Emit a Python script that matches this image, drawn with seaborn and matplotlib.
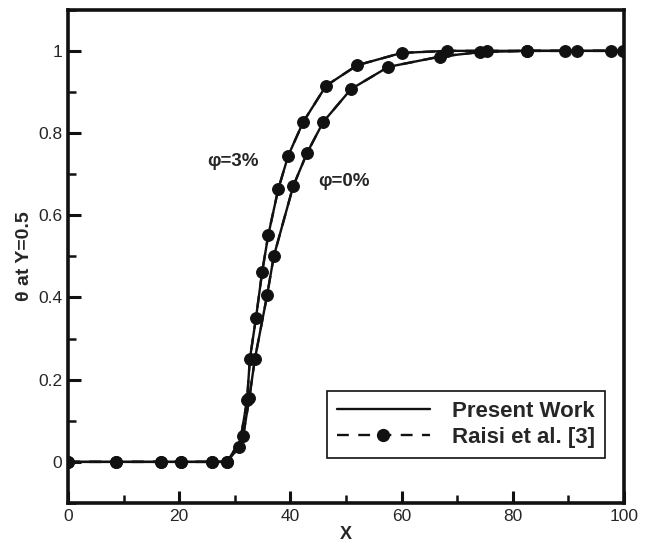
import pandas as pd
import matplotlib
matplotlib.use('Agg')
import matplotlib.pyplot as plt
import seaborn as sns
from matplotlib.lines import Line2D
from matplotlib.ticker import MultipleLocator

# phi = 3 %
x_phi3 = [0, 8.6, 16.7, 20.3, 25.9, 28.6, 30.8, 32.2, 32.7, 33.8, 34.9, 36.0,
          37.8, 39.6, 42.3, 46.4, 52.0, 60.0, 68.2, 75.4, 82.6, 91.5, 99.8]
y_phi3 = [0, 0, 0, 0, 0, 0, 0.037, 0.15, 0.25, 0.35, 0.461, 0.551,
          0.663, 0.745, 0.827, 0.915, 0.965, 0.995, 1.0, 1.0, 1.0, 1.0, 1.0]
# phi = 0 %
x_phi0 = [0, 8.6, 16.7, 20.3, 25.9, 28.6, 31.5, 32.6, 33.6, 35.8, 37.0, 40.5,
          43.0, 45.9, 50.9, 57.6, 66.9, 74.1, 82.6, 89.4, 97.7]
y_phi0 = [0, 0, 0, 0, 0, 0, 0.063, 0.155, 0.25, 0.405, 0.50, 0.671,
          0.752, 0.827, 0.907, 0.961, 0.986, 0.997, 1.0, 1.0, 1.0]

labels = ["Present Work", "Raisi et al. [3]"]

phi3 = pd.DataFrame({"x": x_phi3, "y": y_phi3})
phi0 = pd.DataFrame({"x": x_phi0, "y": y_phi0})

sns.set_style("ticks")
plt.rcParams['font.family'] = ['Liberation Sans', 'DejaVu Sans']

fig = plt.figure(figsize=(6.48, 5.42), dpi=100)
ax = fig.add_axes([0.105, 0.072, 0.858, 0.910])

for df in [phi3, phi0]:
    # present work (solid)
    sns.lineplot(x="x", y="y", data=df, ax=ax, color="#111111", lw=1.7,
                 sort=False, estimator=None, legend=False)
    # Raisi et al. (dashed with dots)
    sns.lineplot(x="x", y="y", data=df, ax=ax, color="#111111", lw=1.7,
                 sort=False, estimator=None, legend=False,
                 linestyle=(0, (5, 4)), marker="o", markersize=8.5,
                 markeredgecolor="#111111", markerfacecolor="#111111")

ax.set_xlim(0, 100)
ax.set_ylim(-0.1, 1.1)
ax.xaxis.set_minor_locator(MultipleLocator(10))
ax.yaxis.set_minor_locator(MultipleLocator(0.1))
ax.set_xticks([0, 20, 40, 60, 80, 100])
ax.set_xticklabels(["0", "20", "40", "60", "80", "100"])
ax.set_yticks([0, 0.2, 0.4, 0.6, 0.8, 1.0])
ax.set_yticklabels(["0", "0.2", "0.4", "0.6", "0.8", "1"])
ax.tick_params(which="major", direction="in", length=9, width=2.2,
               labelsize=12.5, pad=4, color="#111111")
ax.tick_params(which="minor", direction="in", length=6, width=1.8,
               color="#111111")
for s in ax.spines.values():
    s.set_linewidth(2.6)
    s.set_color("#111111")

ax.set_xlabel("X", fontsize=13, fontweight="bold", labelpad=2)
ax.set_ylabel("θ at Y=0.5", fontsize=14, fontweight="bold", labelpad=4)

ax.text(29.7, 0.732, "φ=3%", fontsize=13.5, fontweight="bold",
        ha="center", va="center")
ax.text(49.6, 0.683, "φ=0%", fontsize=13.5, fontweight="bold",
        ha="center", va="center")

handles = [
    Line2D([], [], color="#111111", lw=1.7),
    Line2D([], [], color="#111111", lw=1.7, linestyle=(0, (5, 4)),
           marker="o", markersize=8.5),
]
leg = ax.legend(handles, labels, loc="lower right",
                bbox_to_anchor=(0.966, 0.091), borderaxespad=0,
                prop={"weight": "bold", "size": 16}, handlelength=4.2,
                handletextpad=1.0, borderpad=0.45, labelspacing=0.25,
                fancybox=False, framealpha=1, edgecolor="#111111")
leg.get_frame().set_linewidth(1.2)

plt.savefig("out.png", dpi=100)
plt.close()
